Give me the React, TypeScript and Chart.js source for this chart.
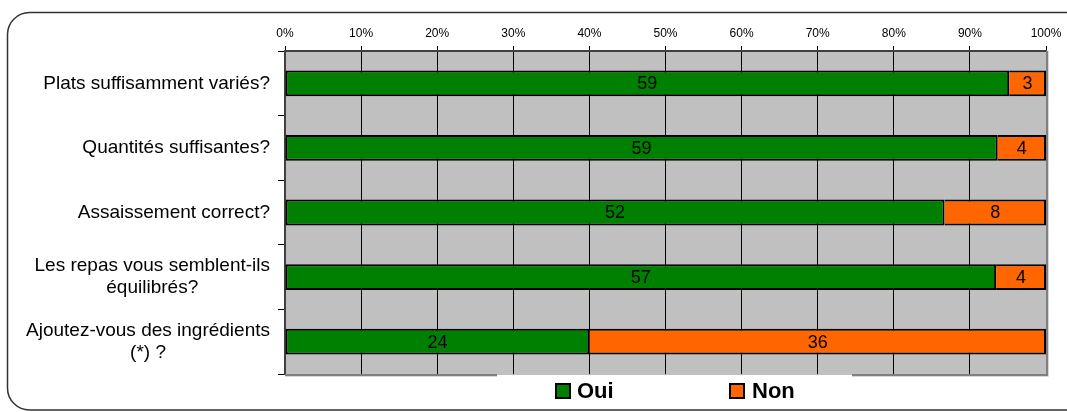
import React, { useEffect, useRef } from "react";
import { Chart, registerables } from "chart.js";

Chart.register(...registerables);

const categories: (string | string[])[] = [
  "Plats suffisamment variés?",
  "Quantités suffisantes?",
  "Assaissement correct?",
  ["Les repas vous semblent-ils", "équilibrés?"],
  ["Ajoutez-vous des ingrédients", "(*) ?"],
];
const seriesNames = ["Oui", "Non"];
const ouiCounts = [59, 59, 52, 57, 24];
const nonCounts = [3, 4, 8, 4, 36];
const seriesColors = ["#008000", "#ff6600"];
const xMin = 0;
const xMax = 100;
const xStep = 10;

const FONT = "'Liberation Sans', Arial, Helvetica, sans-serif";

const totals = ouiCounts.map((v, i) => v + nonCounts[i]);
const ouiPct = ouiCounts.map((v, i) => (v / totals[i]) * 100);
const nonPct = nonCounts.map((v, i) => (v / totals[i]) * 100);
const rawCounts = [ouiCounts, nonCounts];

const framePlugin = {
  id: "frame",
  beforeDraw(chart: any) {
    const { ctx, chartArea: a } = chart;
    ctx.save();
    ctx.fillStyle = "#c0c0c0";
    ctx.fillRect(a.left, a.top, a.right - a.left, a.bottom - a.top);
    ctx.restore();
  },
  afterDatasetsDraw(chart: any) {
    const { ctx, chartArea: a } = chart;
    ctx.save();
    // right & bottom edges of the plot
    ctx.strokeStyle = "#808080";
    ctx.lineWidth = 2;
    ctx.beginPath();
    ctx.moveTo(a.right + 1, a.top);
    ctx.lineTo(a.right + 1, a.bottom + 1);
    ctx.lineTo(a.left, a.bottom + 1);
    ctx.stroke();
    ctx.strokeStyle = "#d8d8d8";
    ctx.lineWidth = 1;
    ctx.beginPath();
    ctx.moveTo(a.left, a.bottom + 2.5);
    ctx.lineTo(a.right + 2.5, a.bottom + 2.5);
    ctx.lineTo(a.right + 2.5, a.top);
    ctx.stroke();

    // bar value labels
    ctx.fillStyle = "#000";
    ctx.font = `18px ${FONT}`;
    ctx.textAlign = "center";
    ctx.textBaseline = "middle";
    chart.data.datasets.forEach((ds: any, di: number) => {
      const meta = chart.getDatasetMeta(di);
      meta.data.forEach((el: any, i: number) => {
        const p = el.getCenterPoint();
        ctx.fillText(String(rawCounts[di][i]), p.x, p.y + 1);
      });
    });

    // category labels (right-aligned block, lines centred within it)
    const ys = chart.scales.y;
    ctx.font = `19px ${FONT}`;
    ctx.textAlign = "center";
    const right = a.left - 15;
    const lh = 22;
    categories.forEach((lab, i) => {
      const lines = Array.isArray(lab) ? lab : [lab];
      const w = Math.max(...lines.map((l) => ctx.measureText(l).width));
      const cx = right - w / 2;
      const cy = ys.getPixelForValue(i);
      lines.forEach((l, j) => {
        ctx.fillText(l, cx, cy + (j - (lines.length - 1) / 2) * lh);
      });
    });

    // legend (white box overlapping the plot bottom)
    ctx.fillStyle = "#fff";
    ctx.fillRect(497, a.bottom + 0.5, 355, 40);
    const legendItems = [
      { x: 556, tx: 577 },
      { x: 730, tx: 752 },
    ];
    ctx.font = `bold 22px ${FONT}`;
    ctx.textAlign = "left";
    ctx.textBaseline = "middle";
    seriesNames.forEach((name, k) => {
      const L = legendItems[k];
      ctx.fillStyle = seriesColors[k];
      ctx.fillRect(L.x, 384, 14, 14);
      ctx.strokeStyle = "#000";
      ctx.lineWidth = 2;
      ctx.strokeRect(L.x, 384, 14, 14);
      ctx.fillStyle = "#000";
      ctx.fillText(name, L.tx, 392);
    });

    // outer rounded border
    ctx.strokeStyle = "#333";
    ctx.lineWidth = 1.5;
    ctx.beginPath();
    ctx.roundRect(7.5, 12.5, 1085, 397.5, 22);
    ctx.stroke();
    ctx.restore();
  },
};

export default function App() {
  const ref = useRef<HTMLCanvasElement | null>(null);
  useEffect(() => {
    document.body.style.margin = "0";
    if (!ref.current) return;
    const chart = new Chart(ref.current, {
      type: "bar",
      data: {
        labels: categories as any,
        datasets: [
          {
            label: seriesNames[0],
            data: ouiPct,
            backgroundColor: seriesColors[0],
            borderColor: "#000",
            borderWidth: 2,
            borderSkipped: false,
          },
          {
            label: seriesNames[1],
            data: nonPct,
            backgroundColor: seriesColors[1],
            borderColor: "#000",
            borderWidth: 2,
            borderSkipped: "start",
          },
        ],
      },
      options: {
        indexAxis: "y",
        animation: false,
        responsive: true,
        maintainAspectRatio: false,
        datasets: { bar: { categoryPercentage: 1, barPercentage: 0.4 } },
        layout: { padding: { left: 0, top: 0, right: 21, bottom: 38 } },
        plugins: { legend: { display: false }, tooltip: { enabled: false } },
        scales: {
          x: {
            position: "top",
            stacked: true,
            min: xMin,
            max: xMax,
            afterFit: (s: any) => {
              s.height = 51;
            },
            ticks: {
              stepSize: xStep,
              callback: (v: any) => v + "%",
              color: "#000",
              font: { family: FONT, size: 12 },
              padding: 5,
              maxRotation: 0,
            },
            grid: { color: "#000", lineWidth: 1, tickLength: 5, drawTicks: true },
            border: { display: true, color: "#404040", width: 2 },
          },
          y: {
            stacked: true,
            afterFit: (s: any) => {
              s.width = 285;
            },
            ticks: { display: false },
            grid: {
              offset: true,
              drawOnChartArea: false,
              drawTicks: true,
              tickLength: 7,
              color: "#000",
              lineWidth: 1,
            },
            border: { display: true, color: "#404040", width: 2 },
          },
        },
      },
      plugins: [framePlugin],
    });
    return () => chart.destroy();
  }, []);
  return (
    <div style={{ width: 1067, height: 412, position: "relative" }}>
      <canvas ref={ref} />
    </div>
  );
}
